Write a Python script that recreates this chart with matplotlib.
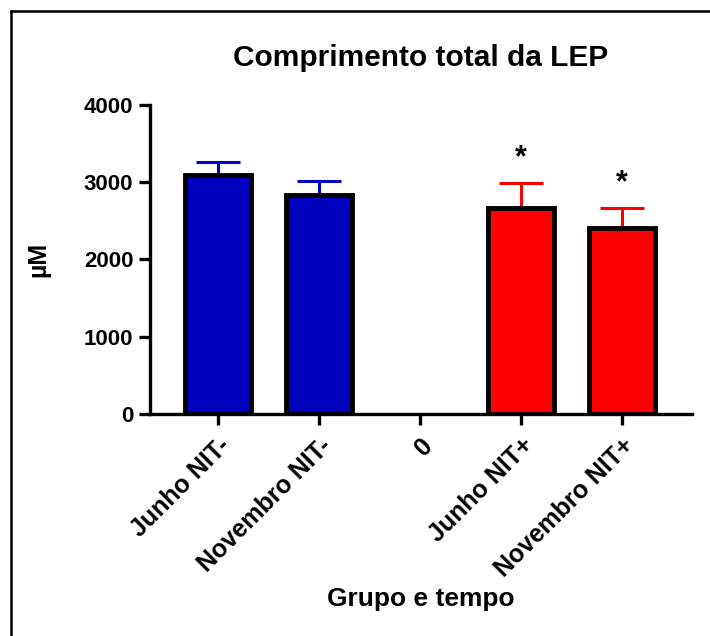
import matplotlib
matplotlib.use("Agg")
import matplotlib.pyplot as plt
from matplotlib.lines import Line2D
import numpy as np

plt.rcParams['font.family'] = ['Liberation Sans', 'DejaVu Sans']
plt.rcParams['font.weight'] = 'bold'

categories = ["Junho NIT-", "Novembro NIT-", "0", "Junho NIT+", "Novembro NIT+"]
means = [3090, 2840, np.nan, 2670, 2410]
sem = [175, 180, np.nan, 325, 255]
colors = ["#0000BE", "#0000BE", "none", "#FF0000", "#FF0000"]
err_colors = ["#0000BE", "#0000BE", "none", "#FF0000", "#FF0000"]
significant = [False, False, False, True, True]

fig = plt.figure(figsize=(7.10, 6.36), dpi=100)
ax = fig.add_axes([150/710, 1-414/636, (692-150)/710, (414-105)/636])

x = np.arange(len(categories))
for i in range(len(categories)):
    if np.isnan(means[i]):
        continue
    ax.errorbar(x[i], means[i], yerr=[[0], [sem[i]]], color=err_colors[i],
                capsize=16, elinewidth=2.2, capthick=2.2, zorder=2)
    ax.bar(x[i], means[i], width=0.66, color=colors[i], edgecolor='black',
           linewidth=3.5, zorder=3)
    if significant[i]:
        ax.annotate("*", (x[i], means[i] + sem[i]), xytext=(0, 7),
                    textcoords='offset points', ha='center', va='bottom',
                    fontsize=22, fontweight='bold')

ax.set_xlim(-0.673, 4.693)
ax.set_ylim(0, 4000)
ax.set_yticks([0, 1000, 2000, 3000, 4000])
ax.set_xticks(x)
ax.set_xticklabels(categories, rotation=45, ha='right', rotation_mode='anchor',
                   fontsize=18, fontweight='bold')
for lab in ax.get_yticklabels():
    lab.set_fontsize(16)
    lab.set_fontweight('bold')

for s in ['top', 'right']:
    ax.spines[s].set_visible(False)
for s in ['left', 'bottom']:
    ax.spines[s].set_linewidth(2.4)
ax.tick_params(axis='both', width=2.4, length=8, direction='out')
ax.tick_params(axis='y', pad=4)
ax.tick_params(axis='x', pad=6)

ax.set_ylabel("µM", fontsize=18, fontweight='bold', labelpad=24)
ax.set_xlabel("Grupo e tempo", fontsize=19, fontweight='bold', labelpad=4)
ax.set_title("Comprimento total da LEP", fontsize=21.5, fontweight='bold', pad=28)

fig.add_artist(Line2D([11/710, 11/710], [0, 1-11/636], color='black', lw=1.8,
                      transform=fig.transFigure))
fig.add_artist(Line2D([11/710, 1], [1-11/636, 1-11/636], color='black', lw=1.8,
                      transform=fig.transFigure))

fig.savefig("out.png", dpi=100, facecolor='white')
